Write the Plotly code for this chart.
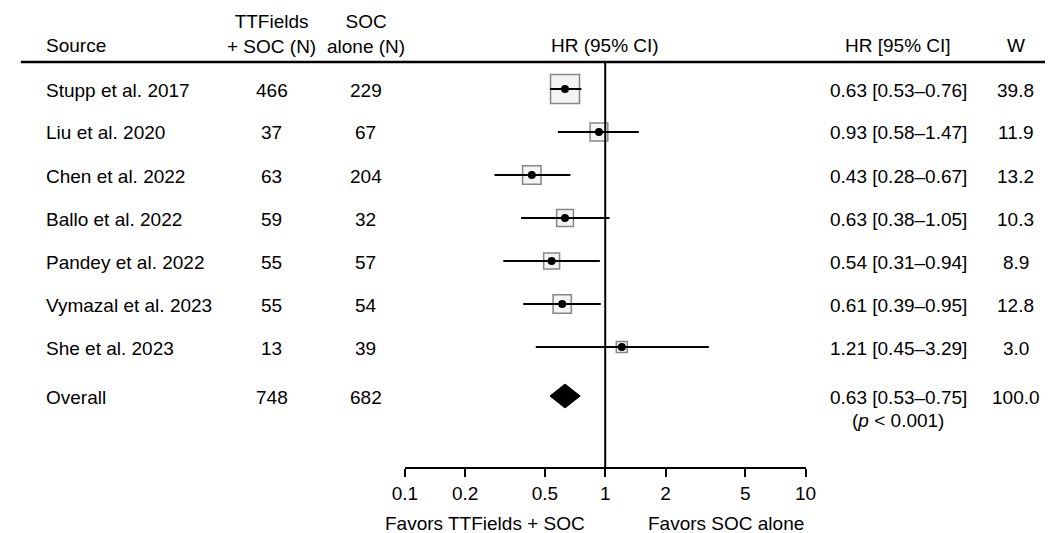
import plotly.graph_objects as go
import math

# ---------------- data ----------------
studies = ["Stupp et al. 2017", "Liu et al. 2020", "Chen et al. 2022", "Ballo et al. 2022",
           "Pandey et al. 2022", "Vymazal et al. 2023", "She et al. 2023"]
n_ttf = [466, 37, 63, 59, 55, 55, 13]
n_soc = [229, 67, 204, 32, 57, 54, 39]
hr = [0.63, 0.93, 0.43, 0.63, 0.54, 0.61, 1.21]
lo = [0.53, 0.58, 0.28, 0.38, 0.31, 0.39, 0.45]
hi = [0.76, 1.47, 0.67, 1.05, 0.94, 0.95, 3.29]
weight = [39.8, 11.9, 13.2, 10.3, 8.9, 12.8, 3.0]

overall_label = "Overall"
overall_n_ttf = 748
overall_n_soc = 682
overall_hr, overall_lo, overall_hi = 0.63, 0.53, 0.75
overall_w = 100.0
overall_p = "(<i>p</i> &lt; 0.001)"

tick_vals = [0.1, 0.2, 0.5, 1, 2, 5, 10]
tick_text = ["0.1", "0.2", "0.5", "1", "2", "5", "10"]

# ---------------- layout helpers ----------------
W, H = 1056, 533
ROW0, ROWH = 89, 43          # pixel y of first row, row spacing
AX_PX, TOP_PX = 467, 62      # axis line, header line
X01, X10 = 401, 811          # pixel x of 0.1 and 10
FONT = "Liberation Sans, Arial, sans-serif"
FS = 19

def r_of(px):
    return (px - ROW0) / ROWH

def xp(px):
    return px / W

def yp(px):
    return 1 - px / H

rows = list(range(len(studies)))
overall_row = r_of(396)

fig = go.Figure()

# boxes
sizes = [4.2 + 3.93 * math.sqrt(w) for w in weight]
fig.add_trace(go.Scatter(
    x=hr, y=rows, mode="markers",
    marker=dict(symbol="square", size=sizes, color="#f0f0f0",
                line=dict(color="#555555", width=1.5)),
    hoverinfo="skip", showlegend=False, cliponaxis=False))

# CI lines
cx, cy = [], []
for l, h, r in zip(lo, hi, rows):
    cx += [l, h, None]
    cy += [r, r, None]
fig.add_trace(go.Scatter(x=cx, y=cy, mode="lines", line=dict(color="black", width=2),
                         hoverinfo="skip", showlegend=False, cliponaxis=False))

# dots
fig.add_trace(go.Scatter(x=hr, y=rows, mode="markers",
                         marker=dict(symbol="circle", size=8, color="black"),
                         hoverinfo="skip", showlegend=False, cliponaxis=False))

# diamond
dh = 12 / ROWH
fig.add_trace(go.Scatter(
    x=[overall_lo, overall_hr, overall_hi, overall_hr, overall_lo],
    y=[overall_row, overall_row - dh, overall_row, overall_row + dh, overall_row],
    mode="lines", fill="toself", fillcolor="black", line=dict(color="black", width=1),
    hoverinfo="skip", showlegend=False, cliponaxis=False))

# reference line at 1
fig.add_shape(type="line", xref="x", yref="paper", x0=1, x1=1, y0=yp(TOP_PX), y1=yp(AX_PX),
              line=dict(color="black", width=2))
# header rule
fig.add_shape(type="line", xref="paper", yref="paper", x0=xp(8), x1=1, y0=yp(TOP_PX), y1=yp(TOP_PX),
              line=dict(color="black", width=2.5))

ann = []
def txt(text, px_x, px_y, anchor="center"):
    ann.append(dict(text=text, x=xp(px_x), y=yp(px_y), xref="paper", yref="paper",
                    xanchor=anchor, yanchor="middle", showarrow=False,
                    font=dict(family=FONT, size=FS, color="black")))

COL_SRC, COL_T, COL_S, COL_HR, COL_W = 32, 265, 361, 906, 1026

# header
txt("Source", COL_SRC, 46, "left")
txt("TTFields<br>+ SOC (N)", COL_T, 34)
txt("SOC<br>alone (N)", COL_S, 34)
txt("HR (95% CI)", (X01 + X10) / 2, 46)
txt("HR [95% CI]", COL_HR, 46)
txt("W", COL_W, 46)

for i, r in enumerate(rows):
    y = ROW0 + ROWH * r + 1
    txt(studies[i], COL_SRC, y, "left")
    txt(str(n_ttf[i]), COL_T, y)
    txt(str(n_soc[i]), COL_S, y)
    txt(f"{hr[i]:.2f} [{lo[i]:.2f}–{hi[i]:.2f}]", COL_HR, y)
    txt(f"{weight[i]:.1f}", COL_W, y)

yo = ROW0 + ROWH * overall_row + 1
txt(overall_label, COL_SRC, yo, "left")
txt(str(overall_n_ttf), COL_T, yo)
txt(str(overall_n_soc), COL_S, yo)
txt(f"{overall_hr:.2f} [{overall_lo:.2f}–{overall_hi:.2f}]", COL_HR, yo)
txt(f"{overall_w:.1f}", COL_W, yo)
txt(overall_p, COL_HR, yo + 23)

txt("Favors TTFields + SOC", 587, 523, "right")
txt("Favors SOC alone", 648, 523, "left")

fig.update_layout(
    width=W, height=H, margin=dict(l=0, r=0, t=0, b=0),
    paper_bgcolor="white", plot_bgcolor="white",
    font=dict(family=FONT, size=FS, color="black"),
    annotations=ann, showlegend=False,
    xaxis=dict(type="log", range=[-1, 1], domain=[xp(X01), xp(X10)],
               tickvals=tick_vals, ticktext=tick_text,
               showline=True, linecolor="black", linewidth=2,
               ticks="outside", ticklen=8, tickwidth=2, tickcolor="black",
               showgrid=False, zeroline=False, fixedrange=True,
               tickfont=dict(family=FONT, size=FS, color="black")),
    yaxis=dict(range=[r_of(AX_PX), r_of(TOP_PX)], domain=[yp(AX_PX), yp(TOP_PX)],
               visible=False, showgrid=False, zeroline=False, fixedrange=True),
)

fig.write_html("out.html", config={"displayModeBar": False},
               post_script="document.body.style.margin='0';document.body.style.overflow='hidden';")
